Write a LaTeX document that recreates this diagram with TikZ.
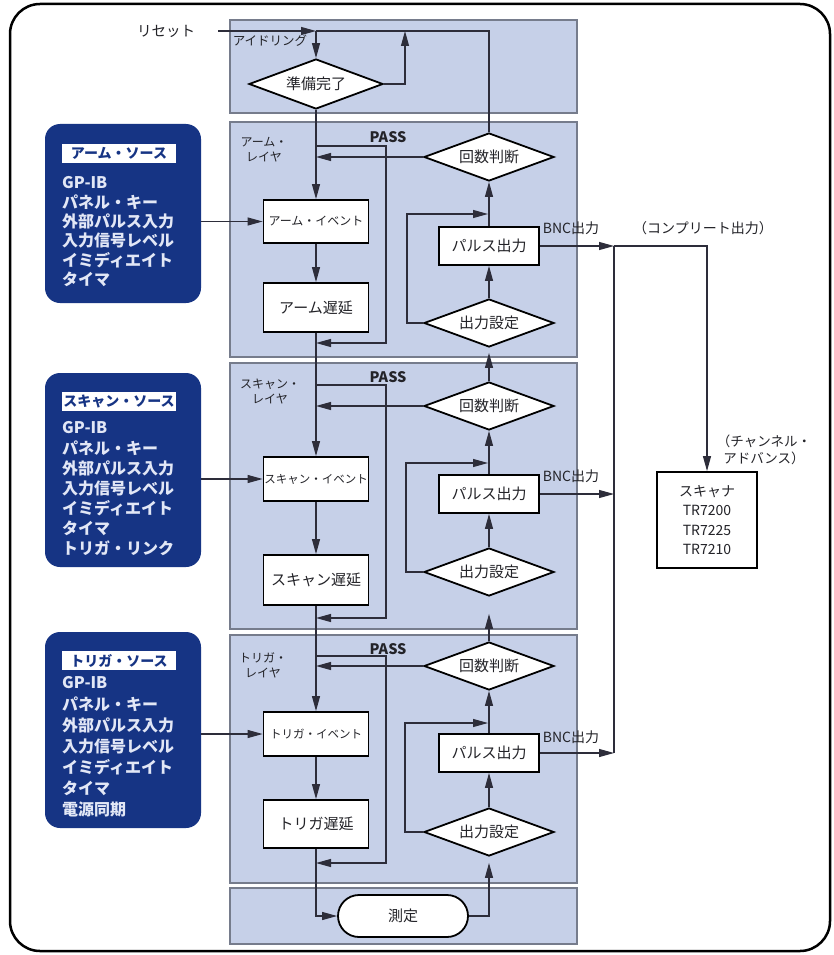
\documentclass[tikz,border=0pt]{standalone}
\usepackage{fontspec}
\setmainfont{Noto Sans CJK JP}
\usetikzlibrary{arrows.meta,shapes.geometric,shapes.misc}
\definecolor{panelfill}{RGB}{198,208,232}
\definecolor{paneldraw}{RGB}{118,124,140}
\definecolor{srcblue}{RGB}{22,52,132}
\definecolor{srctext}{RGB}{226,231,246}
\definecolor{linec}{RGB}{45,45,58}
\definecolor{txt}{RGB}{35,35,40}
\newcommand{\fs}[1]{\fontsize{#1}{#1}\selectfont}
\begin{document}
\begin{tikzpicture}[x=1pt,y=-1pt,
  panel/.style={draw=paneldraw,fill=panelfill,line width=1.2pt},
  box/.style={draw=black,fill=white,line width=1.8pt,minimum width=105pt,minimum height=46pt,inner sep=0pt,text=txt,font=\fs{15}},
  pbox/.style={box,minimum width=100pt,minimum height=38pt},
  dia/.style={diamond,aspect=2.7,draw=black,fill=white,line width=1.8pt,minimum width=130pt,minimum height=48pt,inner sep=0pt,text=txt,font=\fs{15}},
  src/.style={draw=none,fill=srcblue,rounded corners=15pt,minimum width=156pt,inner sep=0pt},
  stitle/.style={fill=white,text=srcblue,font=\bfseries\fs{14},minimum width=114pt,minimum height=19pt,inner sep=0pt},
  item/.style={text=srctext,font=\bfseries\fs{16},inner sep=0pt,anchor=west},
  lbl/.style={text=txt,inner sep=0pt},
  ln/.style={draw=linec,line width=1.1pt},
  arr/.style={ln,-{Triangle[length=15pt,width=8pt]}}]
\useasboundingbox (0,0) rectangle (834,955);
\fill[white] (0,0) rectangle (834,955);
\draw[line width=2.5pt,rounded corners=30pt] (10,4) rectangle (830,951);

% panels
\draw[panel] (230,20) rectangle (577,113);
\draw[panel] (230,122) rectangle (577,357);
\draw[panel] (230,363) rectangle (577,629);
\draw[panel] (230,635) rectangle (577,883);
\draw[panel] (230,888) rectangle (577,944);

% source boxes
\node[src,minimum height=179pt] (src1) at (123,213.5) {};
\node[src,minimum height=194pt] (src2) at (123,470) {};
\node[src,minimum height=196pt] (src3) at (123,730) {};
\node[stitle] (st1) at (119,153.5) {アーム・ソース};
\node[stitle] (st2) at (119,401) {スキャン・ソース};
\node[stitle] (st3) at (119,660.5) {トリガ・ソース};
\foreach \t [count=\i] in {GP-IB,パネル・キー,外部パルス入力,入力信号レベル,イミディエイト,タイマ}
  \node[item] (sa\i) at (62,{183+(\i-1)*19.2}) {\t};
\foreach \t [count=\i] in {GP-IB,パネル・キー,外部パルス入力,入力信号レベル,イミディエイト,タイマ,トリガ・リンク}
  \node[item] (sb\i) at (62,{428+(\i-1)*20}) {\t};
\foreach \t [count=\i] in {GP-IB,パネル・キー,外部パルス入力,入力信号レベル,イミディエイト,タイマ,電源同期}
  \node[item] (sc\i) at (62,{683+(\i-1)*21}) {\t};

% idle
\node[lbl,font=\fs{14.5}] (reset) at (166,31) {リセット};
\node[lbl,font=\fs{12.5}] (idlelbl) at (270,41) {アイドリング};
\node[dia,minimum width=134pt,minimum height=50pt] (idle) at (316,84) {準備完了};
\coordinate (rs) at (218,31);
\coordinate (j0) at (316,31);
\coordinate (j1) at (405,31);

% arm layer
\node[lbl,font=\fs{12},align=center] (lay1) at (264,150) {アーム・\\[3pt]レイヤ};
\node[dia] (k1) at (489,157) {回数判断};
\node[box,font=\fs{12},minimum height=43pt] (ev1) at (316,221.5) {アーム・イベント};
\node[box,minimum height=49pt] (dl1) at (316,307.5) {アーム遅延};
\node[pbox] (pl1) at (489,246) {パルス出力};
\node[dia] (sh1) at (489,323) {出力設定};
\node[lbl,font=\bfseries\fs{14.5}] (pass1) at (388,137) {PASS};
\node[lbl,font=\fs{14}] (bnc1) at (571,228) {BNC出力};

% scan layer
\node[lbl,font=\fs{12},align=center] (lay2) at (270,392) {スキャン・\\[3pt]レイヤ};
\node[dia] (k2) at (489,406) {回数判断};
\node[box,font=\fs{11.5},minimum height=44pt] (ev2) at (316,479) {スキャン・イベント};
\node[box,minimum height=50pt] (dl2) at (316,580) {スキャン遅延};
\node[pbox] (pl2) at (489,494) {パルス出力};
\node[dia] (sh2) at (489,572) {出力設定};
\node[lbl,font=\bfseries\fs{14.5}] (pass2) at (388,377) {PASS};
\node[lbl,font=\fs{14}] (bnc2) at (571,476) {BNC出力};

% trigger layer
\node[lbl,font=\fs{12},align=center] (lay3) at (263,665) {トリガ・\\[3pt]レイヤ};
\node[dia] (k3) at (489,666) {回数判断};
\node[box,font=\fs{11.5},minimum height=44pt] (ev3) at (316,734) {トリガ・イベント};
\node[box,minimum height=48pt] (dl3) at (316,824) {トリガ遅延};
\node[pbox] (pl3) at (489,753) {パルス出力};
\node[dia] (sh3) at (489,832) {出力設定};
\node[lbl,font=\bfseries\fs{14.5}] (pass3) at (388,649) {PASS};
\node[lbl,font=\fs{14}] (bnc3) at (571,737) {BNC出力};

% measure
\node[rounded rectangle,draw=black,fill=white,line width=1.8pt,minimum width=130pt,minimum height=42pt,inner sep=0pt,text=txt,font=\fs{15}] (meas) at (403,916) {測定};

% scanner
\node[draw=black,fill=white,line width=1.8pt,minimum width=100pt,minimum height=96pt,inner sep=0pt,align=center,text=txt,font=\fontsize{14}{19.5}\selectfont] (scn) at (707,520) {スキャナ\\TR7200\\TR7225\\TR7210};
\node[lbl,font=\fs{14}] (cmp) at (703,228) {（コンプリート出力）};
\node[lbl,font=\fontsize{13.5}{16.5}\selectfont,align=center] (chadv) at (764,450) {（チャンネル・\\アドバンス）};

% ---- connectors ----
\draw[arr] (rs) -- (j0);
\draw[arr] (j0) -- (idle.north);
\draw[ln] (j0) -- (k1.north |- j0) -- (k1.north);
\draw[arr] (idle.east) -| (j1);
\draw[arr] (idle.south) -- (ev1.north);

% arm
\coordinate (p1a) at (316,146); \coordinate (p1c) at (386,343); \coordinate (p1d) at (316,343);
\draw[arr] (p1a) -| (p1c) -- (p1d);
\draw[arr] (k1.west) -- (k1.west -| ev1.north);
\draw[arr] (src1.east |- ev1.west) -- (ev1.west);
\draw[arr] (ev1.south) -- (dl1.north);
\draw[arr] (dl1.south) -- (ev2.north);
\draw[arr] (pl1.north) -- (k1.south);
\draw[arr] (sh1.north) -- (pl1.south);
\coordinate (l1) at (407,214);
\draw[arr,shorten >=1pt] (sh1.west) -| (l1) -- (l1 -| pl1.north);

% scan
\coordinate (p2a) at (316,385); \coordinate (p2c) at (386,618); \coordinate (p2d) at (316,618);
\draw[arr] (p2a) -| (p2c) -- (p2d);
\draw[arr] (k2.west) -- (k2.west -| ev2.north);
\draw[arr] (src2.east |- ev2.west) -- (ev2.west);
\draw[arr] (ev2.south) -- (dl2.north);
\draw[arr] (dl2.south) -- (ev3.north);
\draw[arr] (pl2.north) -- (k2.south);
\draw[arr] (sh2.north) -- (pl2.south);
\coordinate (l2) at (406,463);
\draw[arr,shorten >=1pt] (sh2.west) -| (l2) -- (l2 -| pl2.north);
\draw[arr,shorten >=5pt] (k2.north) -- (sh1.south);

% trigger
\coordinate (p3a) at (316,656); \coordinate (p3c) at (386,863); \coordinate (p3d) at (316,863);
\draw[arr] (p3a) -| (p3c) -- (p3d);
\draw[arr] (k3.west) -- (k3.west -| ev3.north);
\draw[arr] (src3.east |- ev3.west) -- (ev3.west);
\draw[arr] (ev3.south) -- (dl3.north);
\draw[arr] (pl3.north) -- (k3.south);
\draw[arr] (sh3.north) -- (pl3.south);
\coordinate (l3) at (405,723);
\draw[arr,shorten >=1pt] (sh3.west) -| (l3) -- (l3 -| pl3.north);
\draw[arr,shorten >=17pt] (k3.north) -- (sh2.south);

% measure
\draw[arr] (dl3.south) |- (meas.west);
\draw[arr,shorten >=6pt] (meas.east) -| (sh3.south);

% BNC bus
\coordinate (busx) at (614,0);
\coordinate (b1) at (pl1.east -| busx);
\coordinate (b2) at (pl2.east -| busx);
\coordinate (b3) at (pl3.east -| busx);
\draw[arr] (pl1.east) -- (b1);
\draw[arr] (pl2.east) -- (b2);
\draw[arr] (pl3.east) -- (b3);
\draw[ln] (b1) -- (b3);
\draw[arr] (b1) -| (scn.north);
\end{tikzpicture}
\end{document}
